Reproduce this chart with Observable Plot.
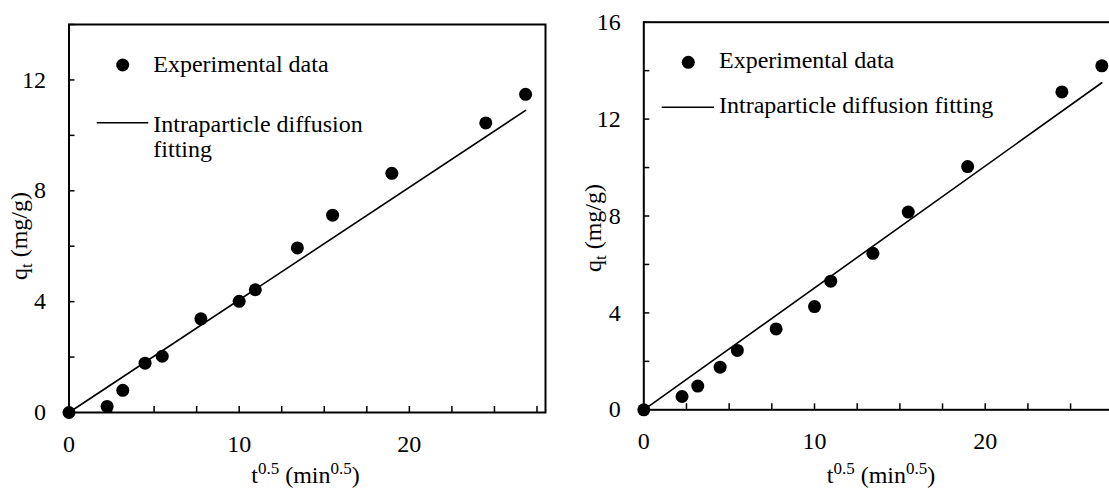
<!DOCTYPE html>
<html><head><meta charset="utf-8">
<script src="https://cdn.jsdelivr.net/npm/d3@7"></script>
<script src="https://cdn.jsdelivr.net/npm/@observablehq/plot@0.6"></script>
<style>
html,body{margin:0;padding:0;background:#fff;overflow:hidden;}
#wrap{position:relative;width:1109px;height:488px;overflow:hidden;font-family:'Liberation Serif',serif;}
#wrap svg{position:absolute;top:0;}
#wrap text{font-family:'Liberation Serif',serif;}
</style></head><body><div id="wrap"></div>
<script>
// t^0.5 (min^0.5) — same sampling times in both panels
const sqrtTime = [0, 2.24, 3.16, 4.47, 5.48, 7.75, 10.0, 10.95, 13.42, 15.49, 18.97, 24.49, 26.83];
// q_t (mg/g), left panel
const qtLeft = [0, 0.22, 0.80, 1.78, 2.03, 3.38, 4.01, 4.43, 5.94, 7.12, 8.63, 10.45, 11.48];
// q_t (mg/g), right panel
const qtRight = [0, 0.55, 0.98, 1.76, 2.45, 3.34, 4.26, 5.31, 6.46, 8.16, 10.04, 13.12, 14.20];
// intraparticle diffusion fitting lines (endpoints)
const fitX = [0, 26.83];
const fitLeft = [0, 10.9];
const fitRight = [0, 13.5];
// ticks
const xTicks = [0, 2.5, 5, 7.5, 10, 12.5, 15, 17.5, 20, 22.5, 25, 27.5];
const xTickLabels = [0, 10, 20];
const yTicksLeft = [0, 2, 4, 6, 8, 10, 12, 14];
const yLabelsLeft = [0, 4, 8, 12];
const yTicksRight = [0, 2, 4, 6, 8, 10, 12, 14, 16];
const yLabelsRight = [0, 4, 8, 12, 16];
const legendDots = "Experimental data";
const legendLine = "Intraparticle diffusion fitting";

const FONT = "'Liberation Serif', serif";
const H = 488;

function panel({q, fit, yMax, yTicks, yLabels, width, ml, mr, mt, mb}) {
  const xMax = 28;
  const innerH = H - mt - mb, innerW = width - ml - mr;
  const tickLenY = 6 * yMax / innerH;
  const tickLenX = 6 * xMax / innerW;
  const pts = sqrtTime.map((x, i) => ({x, y: q[i]}));
  const fitPts = fitX.map((x, i) => ({x, y: fit[i]}));
  return Plot.plot({
    width, height: H,
    marginLeft: ml, marginRight: mr, marginTop: mt, marginBottom: mb,
    x: {domain: [0, xMax]},
    y: {domain: [0, yMax]},
    style: {fontFamily: FONT, fontSize: "24px", background: "transparent", color: "black", overflow: "visible"},
    marks: [
      Plot.ruleX(xTicks, {x: d => d, y1: 0, y2: tickLenY, strokeWidth: 1.5}),
      Plot.ruleY(yTicks, {y: d => d, x1: 0, x2: tickLenX, strokeWidth: 1.5}),
      Plot.frame({strokeWidth: 2}),
      Plot.axisX(xTickLabels, {tickSize: 0, tickPadding: 22, label: null, fontSize: 24}),
      Plot.axisY(yLabels, {tickSize: 0, tickPadding: 23, label: null, fontSize: 24}),
      Plot.line(fitPts, {x: "x", y: "y", stroke: "black", strokeWidth: 1.6}),
      Plot.dot(pts, {x: "x", y: "y", r: 6.5, fill: "black"})
    ]
  });
}

const wrap = document.getElementById("wrap");
const left = panel({q: qtLeft, fit: fitLeft, yMax: 14, yTicks: yTicksLeft, yLabels: yLabelsLeft,
  width: 560, ml: 68.5, mr: 15, mt: 24, mb: 76});
left.style.left = "0px";
wrap.appendChild(left);
const right = panel({q: qtRight, fit: fitRight, yMax: 16, yTicks: yTicksRight, yLabels: yLabelsRight,
  width: 600, ml: 83.3, mr: 38.7, mt: 21.7, mb: 78.7});
right.style.left = "560px";
wrap.appendChild(right);

// overlay: legends and axis titles
const ov = d3.select(wrap).append("svg")
  .attr("width", 1109).attr("height", H)
  .style("left", "0px").style("pointer-events", "none")
  .style("font-family", FONT).attr("font-size", 24).attr("fill", "black");

function xTitle(cx, y) {
  const t = ov.append("text").attr("x", cx).attr("y", y).attr("text-anchor", "middle");
  t.append("tspan").text("t");
  t.append("tspan").attr("dy", -9).attr("font-size", 17).text("0.5");
  t.append("tspan").attr("dy", 9).text(" (min");
  t.append("tspan").attr("dy", -9).attr("font-size", 17).text("0.5");
  t.append("tspan").attr("dy", 9).text(")");
}
function yTitle(x, cy) {
  const t = ov.append("text").attr("transform", `translate(${x},${cy}) rotate(-90)`).attr("text-anchor", "middle");
  t.append("tspan").text("q");
  t.append("tspan").attr("dy", 5).attr("font-size", 17).text("t");
  t.append("tspan").attr("dy", -5).text(" (mg/g)");
}
xTitle(305.5, 483);
xTitle(881, 483);
yTitle(26.5, 236);
yTitle(601, 228);

// left legend
ov.append("circle").attr("cx", 122.7).attr("cy", 65).attr("r", 6.5);
ov.append("text").attr("x", 153.3).attr("y", 72.3).text(legendDots);
ov.append("line").attr("x1", 96.7).attr("x2", 148.3).attr("y1", 122.7).attr("y2", 122.7).attr("stroke", "black").attr("stroke-width", 1.6);
ov.append("text").attr("x", 153.3).attr("y", 131.7).text("Intraparticle diffusion");
ov.append("text").attr("x", 153.3).attr("y", 156.7).text("fitting");
// right legend
ov.append("circle").attr("cx", 688.3).attr("cy", 62.3).attr("r", 6.5);
ov.append("text").attr("x", 719).attr("y", 68.3).text(legendDots);
ov.append("line").attr("x1", 661.7).attr("x2", 714).attr("y1", 107.3).attr("y2", 107.3).attr("stroke", "black").attr("stroke-width", 1.6);
ov.append("text").attr("x", 719).attr("y", 113.3).text(legendLine);
</script>
</body></html>
